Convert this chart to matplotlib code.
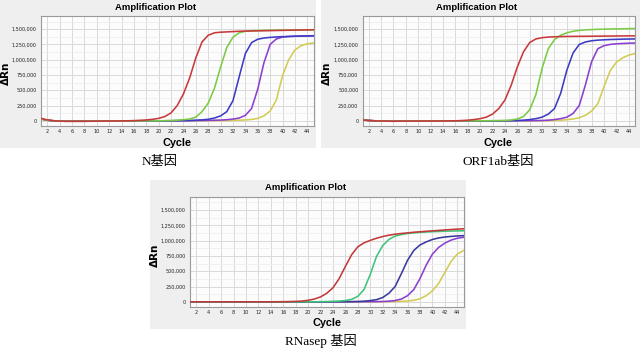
import matplotlib
matplotlib.use("Agg")
import matplotlib.pyplot as plt
from matplotlib.patches import Rectangle
from matplotlib.ticker import MultipleLocator, FuncFormatter

# ---------------- data (values in thousands of ΔRn) ----------------
cycles = list(range(1, 46))
x_ticks = list(range(2, 45, 2))
y_ticks = [0, 250000, 500000, 750000, 1000000, 1250000, 1500000]

panel_titles = ["Amplification Plot", "Amplification Plot", "Amplification Plot"]
captions = ["N基因", "ORF1ab基因", "RNasep 基因"]
x_label = "Cycle"
y_label = "ΔRn"

# N gene
n_red = [40, 15, 2, -5, -8, -8, -8, -8, -7, -6,
         -5, -4, -3, -2, 0, 3, 8, 14, 24, 40,
         70, 130, 250, 440, 700, 1030, 1290, 1400, 1440, 1450,
         1455, 1460, 1465, 1468, 1470, 1472, 1474, 1476, 1478, 1480,
         1482, 1484, 1486, 1488, 1490]
n_green = [30, 10, 0, -5, -7, -7, -7, -7, -6, -6,
           -5, -5, -4, -4, -3, -3, -2, -2, -1, 0,
           2, 5, 10, 18, 30, 60, 150, 290, 530, 880,
           1200, 1370, 1440, 1465, 1475, 1478, 1480, 1482, 1483, 1484,
           1485, 1486, 1487, 1488, 1490]
n_blue = [30, 10, 0, -5, -7, -7, -7, -7, -6, -6,
          -5, -5, -4, -4, -3, -3, -2, -2, -1, 0,
          0, 1, 2, 3, 5, 10, 15, 25, 45, 80,
          150, 330, 720, 1100, 1280, 1335, 1355, 1365, 1372, 1377,
          1380, 1383, 1385, 1387, 1390]
n_purple = [30, 10, 0, -5, -7, -7, -7, -7, -6, -6,
            -5, -5, -4, -4, -3, -3, -2, -2, -1, 0,
            0, 0, 1, 1, 2, 3, 5, 7, 9, 12,
            18, 28, 45, 90, 200, 520, 950, 1250, 1340, 1370,
            1380, 1385, 1388, 1390, 1392]
n_yellow = [30, 10, 0, -5, -7, -7, -7, -7, -6, -6,
            -5, -5, -4, -4, -3, -3, -2, -2, -1, 0,
            0, 0, 0, 1, 1, 1, 2, 2, 3, 3,
            5, 7, 10, 14, 22, 40, 80, 160, 340, 740,
            1000, 1160, 1230, 1260, 1275]

# ORF1ab gene
o_red = [15, 5, 0, -4, -6, -8, -6, -5, -5, -5,
         -4, -4, -3, -3, -2, 0, 4, 10, 20, 35,
         60, 110, 200, 340, 580, 880, 1130, 1280, 1340, 1360,
         1370, 1375, 1378, 1380, 1381, 1382, 1383, 1384, 1385, 1386,
         1387, 1388, 1389, 1390, 1390]
o_green = [15, 5, 0, -4, -6, -6, -6, -5, -5, -5,
           -4, -4, -3, -3, -2, -2, -1, -1, 0, 0,
           1, 2, 3, 5, 12, 30, 70, 180, 430, 860,
           1180, 1330, 1400, 1440, 1465, 1480, 1488, 1493, 1497, 1500,
           1502, 1504, 1506, 1508, 1510]
o_blue = [15, 5, 0, -4, -6, -6, -6, -5, -5, -5,
          -4, -4, -3, -3, -2, -2, -1, -1, 0, 0,
          0, 0, 1, 1, 2, 5, 10, 20, 35, 60,
          110, 200, 450, 830, 1110, 1250, 1290, 1310, 1320, 1325,
          1330, 1333, 1336, 1338, 1340]
o_purple = [15, 5, 0, -4, -6, -6, -6, -5, -5, -5,
            -4, -4, -3, -3, -2, -2, -1, -1, 0, 0,
            0, 0, 0, 0, 1, 1, 2, 2, 3, 5,
            10, 20, 35, 60, 120, 250, 590, 970, 1180, 1230,
            1250, 1260, 1265, 1270, 1272]
o_yellow = [15, 5, 0, -4, -6, -6, -6, -5, -5, -5,
            -4, -4, -3, -3, -2, -2, -1, -1, 0, 0,
            0, 0, 0, 0, 0, 1, 1, 1, 2, 2,
            3, 5, 10, 18, 30, 50, 90, 160, 280, 560,
            820, 960, 1030, 1075, 1100]

# RNasep gene
r_red = [0, 0, 0, 0, 0, 0, 0, 0, 0, 0,
         0, 0, 0, 0, 1, 2, 4, 7, 12, 25,
         45, 80, 140, 230, 380, 580, 770, 900, 965, 1005,
         1040, 1068, 1090, 1106, 1118, 1128, 1138, 1146, 1154, 1161,
         1168, 1176, 1183, 1189, 1195]
r_green = [0, 0, 0, 0, 0, 0, 0, 0, 0, 0,
           0, 0, 0, 0, 0, 0, 0, 0, 0, 0,
           1, 2, 4, 8, 12, 20, 40, 90, 200, 450,
           740, 920, 1020, 1075, 1100, 1118, 1128, 1136, 1142, 1147,
           1151, 1155, 1158, 1160, 1162]
r_blue = [0, 0, 0, 0, 0, 0, 0, 0, 0, 0,
          0, 0, 0, 0, 0, 0, 0, 0, 0, 0,
          0, 0, 0, 1, 1, 2, 3, 5, 10, 20,
          35, 70, 140, 250, 460, 680, 840, 930, 980, 1020,
          1045, 1060, 1070, 1078, 1082]
r_purple = [0, 0, 0, 0, 0, 0, 0, 0, 0, 0,
            0, 0, 0, 0, 0, 0, 0, 0, 0, 0,
            0, 0, 0, 0, 0, 1, 1, 1, 2, 2,
            3, 5, 10, 20, 45, 100, 200, 380, 600, 780,
            890, 960, 1010, 1040, 1055]
r_yellow = [0, 0, 0, 0, 0, 0, 0, 0, 0, 0,
            0, 0, 0, 0, 0, 0, 0, 0, 0, 0,
            0, 0, 0, 0, 0, 0, 0, 0, 0, 0,
            1, 2, 3, 5, 8, 12, 25, 50, 100, 180,
            300, 480, 660, 780, 840]

panels_data = [
    [n_yellow, n_purple, n_blue, n_green, n_red],
    [o_yellow, o_purple, o_blue, o_green, o_red],
    [r_yellow, r_purple, r_blue, r_green, r_red],
]
colors_ab = ["#d2cb55", "#8b3fcf", "#3c3cc6", "#7acb45", "#c8393b"]
colors_r = ["#d2cb55", "#8b3fcf", "#3a3a9c", "#3fc47a", "#c23a3a"]
panel_colors = [colors_ab, colors_ab, colors_r]

# ---------------- layout (pixels, origin top-left) ----------------
W, H = 640, 352
fig = plt.figure(figsize=(W / 100, H / 100), dpi=100)
fig.patch.set_facecolor("white")

def fx(px):
    return px / W

def fy(py):
    return 1 - py / H

# gray panel backgrounds: (x0, y0, x1, y1)
bgs = [(0, 0, 316, 148), (321, 0, 640, 148), (150, 180, 466, 329)]
# plot areas: (left, top, right, bottom)
areas = [(41, 16, 313.5, 126), (362.5, 16, 635, 126), (190, 197, 463.5, 307)]
title_pos = [(156, 7), (477, 7), (306, 187)]
xlabel_pos = [(177, 143), (498, 143), (327, 323)]
ylabel_pos = [(6, 73), (327, 73), (155, 255)]
caption_pos = [(160, 162), (498, 162), (321, 341)]

for (x0, y0, x1, y1) in bgs:
    fig.patches.append(Rectangle((fx(x0), fy(y1)), fx(x1) - fx(x0), fy(y0) - fy(y1),
                                 transform=fig.transFigure, facecolor="#efefef",
                                 edgecolor="none", zorder=-10))

fmt = FuncFormatter(lambda v, p: f"{int(round(v)):,}")

for i in range(3):
    l, t, r, b = areas[i]
    ax = fig.add_axes([fx(l), fy(b), fx(r) - fx(l), fy(t) - fy(b)])
    ax.set_zorder(5)
    ax.set_facecolor("#fcfcfc")
    for series, col in zip(panels_data[i], panel_colors[i]):
        ax.plot(cycles, [v * 1000 for v in series], color=col, lw=1.15,
                solid_joinstyle="round", zorder=3)
    ax.set_xlim(1, 45)
    ax.set_ylim(-85000, 1715000)
    ax.set_xticks(x_ticks)
    ax.set_xticklabels([str(v) for v in x_ticks])
    ax.set_yticks(y_ticks)
    ax.yaxis.set_major_formatter(fmt)
    ax.yaxis.set_minor_locator(MultipleLocator(125000))
    ax.grid(which="major", color="#d9d9d9", lw=0.7, zorder=0)
    ax.grid(which="minor", axis="y", color="#ececec", lw=0.5, zorder=0)
    ax.set_axisbelow(True)
    ax.tick_params(which="both", length=0, pad=2.5, labelsize=3.5, colors="#222222")
    ax.tick_params(axis="y", pad=3)
    for s in ax.spines.values():
        s.set_color("#9a9a9a")
        s.set_linewidth(0.8)

    tx, ty = title_pos[i]
    fig.text(fx(tx), fy(ty), panel_titles[i], ha="center", va="center",
             fontsize=6.8, fontweight="bold", family="Liberation Sans")
    lx, ly = xlabel_pos[i]
    fig.text(fx(lx), fy(ly), x_label, ha="center", va="center",
             fontsize=7.8, fontweight="bold", family="Liberation Sans")
    yx, yy = ylabel_pos[i]
    fig.text(fx(yx), fy(yy), y_label, ha="center", va="center", rotation=90,
             fontsize=7.5, fontweight="bold", family="DejaVu Sans")
    cx, cy = caption_pos[i]
    fig.text(fx(cx), fy(cy), captions[i], ha="center", va="center",
             fontsize=9.5, family=["Liberation Serif", "Noto Sans CJK SC"])

fig.savefig("out.png", dpi=100, facecolor="white")
